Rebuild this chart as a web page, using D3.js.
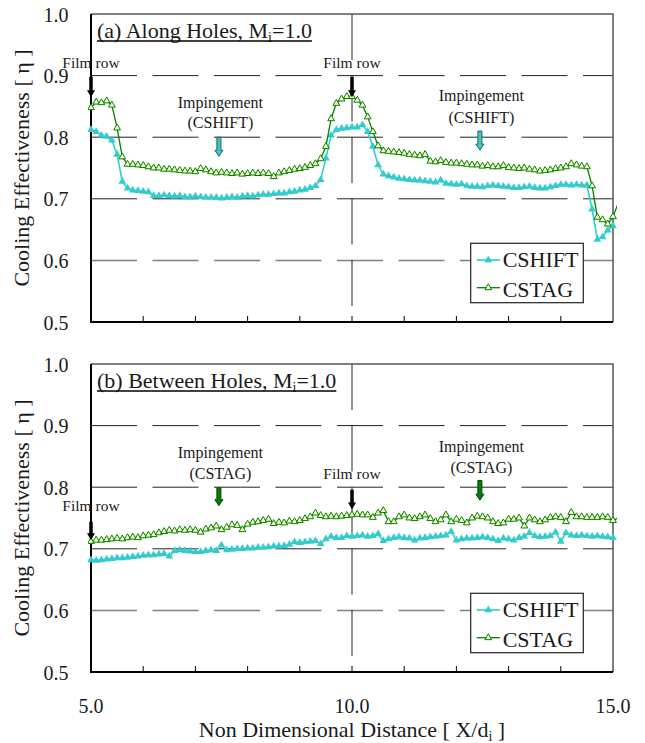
<!DOCTYPE html>
<html>
<head>
<meta charset="utf-8">
<script src="https://cdn.jsdelivr.net/npm/d3@7/dist/d3.min.js"></script>
<style>
  body { margin: 0; background: #fff; }
  svg text { font-family: "Liberation Serif", "Times New Roman", serif; fill: #1a1a1a; }
</style>
</head>
<body>
<div id="viz"></div>
<script>
// measuring stations X/di (one every 0.1)
const xPos = [
  5.0, 5.1, 5.2, 5.3, 5.4, 5.5, 5.6, 5.7, 5.8, 5.9,
  6.0, 6.1, 6.2, 6.3, 6.4, 6.5, 6.6, 6.7, 6.8, 6.9,
  7.0, 7.1, 7.2, 7.3, 7.4, 7.5, 7.6, 7.7, 7.8, 7.9,
  8.0, 8.1, 8.2, 8.3, 8.4, 8.5, 8.6, 8.7, 8.8, 8.9,
  9.0, 9.1, 9.2, 9.3, 9.4, 9.5, 9.6, 9.7, 9.8, 9.9,
  10.0, 10.1, 10.2, 10.3, 10.4, 10.5, 10.6, 10.7, 10.8, 10.9,
  11.0, 11.1, 11.2, 11.3, 11.4, 11.5, 11.6, 11.7, 11.8, 11.9,
  12.0, 12.1, 12.2, 12.3, 12.4, 12.5, 12.6, 12.7, 12.8, 12.9,
  13.0, 13.1, 13.2, 13.3, 13.4, 13.5, 13.6, 13.7, 13.8, 13.9,
  14.0, 14.1, 14.2, 14.3, 14.4, 14.5, 14.6, 14.7, 14.8, 14.9,
  15.0, 15.1
];

// (a) along holes
const shiftAlong = [
  0.812, 0.809, 0.803, 0.801, 0.795, 0.772, 0.728, 0.717, 0.714, 0.713,
  0.712, 0.711, 0.705, 0.705, 0.706, 0.705, 0.704, 0.705, 0.703, 0.703,
  0.704, 0.703, 0.702, 0.702, 0.702, 0.701, 0.702, 0.703, 0.702, 0.704,
  0.705, 0.704, 0.706, 0.707, 0.707, 0.708, 0.709, 0.709, 0.711, 0.712,
  0.714, 0.715, 0.718, 0.721, 0.731, 0.766, 0.803, 0.812, 0.814, 0.815,
  0.816, 0.816, 0.820, 0.809, 0.785, 0.755, 0.740, 0.737, 0.735, 0.733,
  0.732, 0.731, 0.730, 0.730, 0.729, 0.728, 0.727, 0.730, 0.725, 0.724,
  0.723, 0.724, 0.721, 0.720, 0.720, 0.719, 0.721, 0.722, 0.721, 0.720,
  0.719, 0.718, 0.718, 0.719, 0.720, 0.718, 0.717, 0.717, 0.719, 0.721,
  0.723, 0.723, 0.722, 0.723, 0.722, 0.722, 0.683, 0.634, 0.638, 0.649,
  0.656
];
const stagAlong = [
  0.848, 0.857, 0.856, 0.859, 0.852, 0.815, 0.768, 0.756, 0.756, 0.755,
  0.754, 0.752, 0.750, 0.750, 0.748, 0.748, 0.747, 0.746, 0.745, 0.745,
  0.744, 0.749, 0.747, 0.744, 0.742, 0.743, 0.742, 0.741, 0.742, 0.740,
  0.741, 0.742, 0.741, 0.742, 0.741, 0.736, 0.742, 0.744, 0.746, 0.748,
  0.749, 0.751, 0.754, 0.757, 0.765, 0.785, 0.830, 0.855, 0.862, 0.866,
  0.866, 0.860, 0.852, 0.833, 0.809, 0.786, 0.778, 0.777, 0.776, 0.775,
  0.774, 0.772, 0.771, 0.770, 0.772, 0.761, 0.760, 0.762, 0.759, 0.758,
  0.758, 0.757, 0.756, 0.755, 0.755, 0.753, 0.754, 0.752, 0.752, 0.754,
  0.751, 0.750, 0.749, 0.750, 0.748, 0.747, 0.745, 0.746, 0.747, 0.749,
  0.750, 0.752, 0.757, 0.755, 0.753, 0.752, 0.721, 0.670, 0.666, 0.659,
  0.671, 0.693
];

// (b) between holes
const shiftBetween = [
  0.682, 0.681, 0.682, 0.683, 0.684, 0.685, 0.685, 0.686, 0.687, 0.688,
  0.689, 0.690, 0.690, 0.691, 0.692, 0.688, 0.697, 0.698, 0.697, 0.696,
  0.695, 0.695, 0.697, 0.698, 0.697, 0.706, 0.698, 0.699, 0.700, 0.700,
  0.701, 0.701, 0.702, 0.702, 0.703, 0.704, 0.704, 0.705, 0.707, 0.711,
  0.710, 0.711, 0.712, 0.713, 0.708, 0.716, 0.720, 0.718, 0.718, 0.721,
  0.720, 0.721, 0.722, 0.720, 0.721, 0.724, 0.713, 0.716, 0.718, 0.719,
  0.718, 0.717, 0.714, 0.717, 0.718, 0.719, 0.720, 0.721, 0.722, 0.728,
  0.714, 0.716, 0.717, 0.717, 0.718, 0.719, 0.718, 0.716, 0.713, 0.717,
  0.716, 0.714, 0.718, 0.720, 0.726, 0.721, 0.719, 0.720, 0.721, 0.727,
  0.712, 0.726, 0.722, 0.721, 0.722, 0.721, 0.720, 0.721, 0.720, 0.719,
  0.718
];
const stagBetween = [
  0.712, 0.714, 0.714, 0.715, 0.716, 0.717, 0.716, 0.718, 0.719, 0.718,
  0.721, 0.722, 0.723, 0.726, 0.728, 0.730, 0.729, 0.731, 0.730, 0.731,
  0.730, 0.727, 0.732, 0.734, 0.737, 0.731, 0.735, 0.739, 0.738, 0.731,
  0.740, 0.743, 0.744, 0.746, 0.748, 0.741, 0.743, 0.742, 0.745, 0.744,
  0.746, 0.749, 0.752, 0.758, 0.754, 0.752, 0.753, 0.752, 0.753, 0.754,
  0.755, 0.756, 0.755, 0.755, 0.751, 0.758, 0.762, 0.744, 0.744, 0.752,
  0.755, 0.750, 0.749, 0.752, 0.755, 0.749, 0.744, 0.747, 0.755, 0.744,
  0.748, 0.746, 0.742, 0.750, 0.753, 0.752, 0.750, 0.744, 0.741, 0.742,
  0.748, 0.748, 0.750, 0.737, 0.750, 0.747, 0.744, 0.747, 0.751, 0.752,
  0.751, 0.744, 0.759, 0.752, 0.752, 0.751, 0.751, 0.751, 0.752, 0.751,
  0.746, 0.750
];

const yTicks = [0.5, 0.6, 0.7, 0.8, 0.9, 1.0];
const xTickLabels = [5.0, 10.0, 15.0];
const xMinorTicks = [6, 7, 8, 9, 10, 11, 12, 13, 14];
const gridLevels = [0.6, 0.7, 0.8, 0.9];
const seriesNames = ['CSHIFT', 'CSTAG'];

// annotations: where the arrow sits (X/di), text lines and heights in eta units
const notesAlong = [
  { x: 5.0, lines: ['Film row'], textAt: [0.912], from: 0.898, to: 0.865, kind: 'film' },
  { x: 10.0, lines: ['Film row'], textAt: [0.912], from: 0.898, to: 0.865, kind: 'film' },
  { x: 7.45, lines: ['Impingement', '(CSHIFT)'], textAt: [0.847, 0.815], from: 0.800, to: 0.769, kind: 'shift' },
  { x: 12.45, lines: ['Impingement', '(CSHIFT)'], textAt: [0.858, 0.823], from: 0.810, to: 0.779, kind: 'shift' }
];
const notesBetween = [
  { x: 5.0, lines: ['Film row'], textAt: [0.762], from: 0.744, to: 0.714, kind: 'film' },
  { x: 10.0, lines: ['Film row'], textAt: [0.813], from: 0.796, to: 0.764, kind: 'film' },
  { x: 7.45, lines: ['Impingement', '(CSTAG)'], textAt: [0.847, 0.814], from: 0.799, to: 0.770, kind: 'stag' },
  { x: 12.45, lines: ['Impingement', '(CSTAG)'], textAt: [0.857, 0.823], from: 0.811, to: 0.779, kind: 'stag' }
];

const W = 645, H = 743;
const plotLeft = 91, plotRight = 613, plotH = 308;
const cyan = '#33cccc', green = '#008000', markFill = '#ffffcc';
const dash = '46,15.5';

const svg = d3.select('#viz').append('svg')
  .attr('width', W).attr('height', H);

const x = d3.scaleLinear().domain([5, 15]).range([plotLeft, plotRight]);

const panels = [
  { top: 14, title: '(a) Along Holes, M', shift: shiftAlong, stag: stagAlong, notes: notesAlong, id: 'a' },
  { top: 364, title: '(b) Between Holes, M', shift: shiftBetween, stag: stagBetween, notes: notesBetween, id: 'b' }
];

const triangle = size => d3.symbol().type(d3.symbolTriangle).size(size)();

function arrowPath(cx, y0, y1, w, hw, hh) {
  const yh = y1 - hh;
  return `M${cx - w / 2},${y0}L${cx + w / 2},${y0}L${cx + w / 2},${yh}L${cx + hw / 2},${yh}` +
    `L${cx},${y1}L${cx - hw / 2},${yh}L${cx - w / 2},${yh}Z`;
}

panels.forEach(p => {
  const bottom = p.top + plotH;
  const y = d3.scaleLinear().domain([0.5, 1.0]).range([bottom, p.top]);
  const g = svg.append('g');

  // grid
  gridLevels.forEach(v => {
    g.append('line')
      .attr('x1', plotLeft).attr('x2', plotRight)
      .attr('y1', y(v)).attr('y2', y(v))
      .attr('stroke', v === 0.6 ? '#808080' : '#222')
      .attr('stroke-width', v === 0.6 ? 1.5 : 1)
      .attr('stroke-dasharray', dash);
  });
  g.append('line') // vertical at the film row
    .attr('x1', x(10)).attr('x2', x(10))
    .attr('y1', p.top).attr('y2', bottom)
    .attr('stroke', '#222').attr('stroke-width', 1)
    .attr('stroke-dasharray', dash);

  // frame
  g.append('path')
    .attr('d', `M${plotLeft},${p.top}H${plotRight}V${bottom}`)
    .attr('fill', 'none').attr('stroke', '#555').attr('stroke-width', 1.5);
  g.append('path')
    .attr('d', `M${plotLeft},${p.top}V${bottom}H${plotRight}`)
    .attr('fill', 'none').attr('stroke', '#000').attr('stroke-width', 2);

  g.selectAll('.minor').data(xMinorTicks).enter().append('line')
    .attr('x1', d => x(d)).attr('x2', d => x(d))
    .attr('y1', bottom).attr('y2', bottom - 6)
    .attr('stroke', '#000').attr('stroke-width', 1);

  // y tick labels
  g.selectAll('.ylab').data(yTicks).enter().append('text')
    .attr('x', 68.5).attr('y', d => y(d) + 7.5)
    .attr('text-anchor', 'end')
    .attr('font-size', '20px')
    .text(d => d3.format('.1f')(d));

  // y axis title
  g.append('text')
    .attr('transform', `translate(28.5,${(p.top + bottom) / 2})rotate(-90)`)
    .attr('text-anchor', 'middle')
    .attr('font-size', '22px')
    .text('Cooling Effectiveness [ η ]');

  // title with underline
  const title = g.append('text')
    .attr('x', 97).attr('y', p.top + 23.8)
    .attr('font-size', '22px');
  title.append('tspan').text(p.title);
  title.append('tspan').attr('font-size', '14px').attr('dy', 4).text('i');
  title.append('tspan').attr('dy', -4).text('=1.0');
  const tw = title.node().getComputedTextLength();
  g.append('line')
    .attr('x1', 97).attr('x2', 97 + tw)
    .attr('y1', p.top + 27).attr('y2', p.top + 27)
    .attr('stroke', '#000').attr('stroke-width', 1.3);

  // series
  const clipId = 'clip-' + p.id;
  svg.append('clipPath').attr('id', clipId).append('rect')
    .attr('x', plotLeft - 3).attr('y', p.top)
    .attr('width', plotRight - plotLeft + 7).attr('height', plotH);

  const line = d3.line().x((d, i) => x(xPos[i])).y(d => y(d));
  const series = g.append('g').attr('clip-path', `url(#${clipId})`);

  series.append('path').datum(p.shift)
    .attr('d', line).attr('fill', 'none')
    .attr('stroke', cyan).attr('stroke-width', 1.6);
  series.selectAll('.ms').data(p.shift).enter().append('path')
    .attr('d', triangle(26))
    .attr('transform', (d, i) => `translate(${x(xPos[i])},${y(d)})`)
    .attr('fill', cyan);

  series.append('path').datum(p.stag)
    .attr('d', line).attr('fill', 'none')
    .attr('stroke', green).attr('stroke-width', 1.3);
  series.selectAll('.mg').data(p.stag.filter((d, i) => xPos[i] <= 15)).enter().append('path')
    .attr('d', triangle(20))
    .attr('transform', (d, i) => `translate(${x(xPos[i])},${y(d)})`)
    .attr('fill', markFill).attr('stroke', green).attr('stroke-width', 1);

  // annotations
  p.notes.forEach(n => {
    const cx = x(n.x);
    n.lines.forEach((t, k) => {
      g.append('text')
        .attr('x', n.kind === 'film' ? cx : cx + 1.5)
        .attr('y', y(n.textAt[k]))
        .attr('text-anchor', 'middle')
        .attr('font-size', n.kind === 'film' ? '15.5px' : '16px')
        .text(t);
    });
    const a = g.append('path');
    if (n.kind === 'film') {
      a.attr('d', arrowPath(cx, y(n.from), y(n.to), 3.5, 8, 7)).attr('fill', '#000');
    } else {
      a.attr('d', arrowPath(cx, y(n.from), y(n.to), 4, 8, 6))
        .attr('fill', n.kind === 'shift' ? cyan : green)
        .attr('stroke', n.kind === 'shift' ? '#2f5f5f' : '#0a3d0a')
        .attr('stroke-width', 1);
    }
  });

  // legend
  const lx = plotRight - 142.3, ly = p.top + 229.3;
  const lg = g.append('g');
  lg.append('rect')
    .attr('x', lx).attr('y', ly).attr('width', 112.6).attr('height', 59.4)
    .attr('fill', '#fff').attr('stroke', '#222').attr('stroke-width', 1.2);
  seriesNames.forEach((name, k) => {
    const my = ly + (k === 0 ? 16.7 : 44.4);
    const col = k === 0 ? cyan : green;
    lg.append('line')
      .attr('x1', lx + 6).attr('x2', lx + 29.3)
      .attr('y1', my).attr('y2', my)
      .attr('stroke', col).attr('stroke-width', k === 0 ? 1.6 : 1.3);
    lg.append('path')
      .attr('d', triangle(k === 0 ? 26 : 20))
      .attr('transform', `translate(${lx + 17.6},${my})`)
      .attr('fill', k === 0 ? cyan : markFill)
      .attr('stroke', k === 0 ? 'none' : green);
    lg.append('text')
      .attr('x', lx + 32).attr('y', my + (k === 0 ? 6.7 : 8.8))
      .attr('font-size', '22px')
      .text(name);
  });
});

// x axis labels (bottom panel only)
svg.selectAll('.xlab').data(xTickLabels).enter().append('text')
  .attr('x', d => x(d)).attr('y', 713)
  .attr('text-anchor', 'middle')
  .attr('font-size', '20px')
  .text(d => d3.format('.1f')(d));

const xt = svg.append('text')
  .attr('x', 352).attr('y', 737)
  .attr('text-anchor', 'middle')
  .attr('font-size', '22px');
xt.append('tspan').text('Non Dimensional Distance [ X/d');
xt.append('tspan').attr('font-size', '14px').attr('dy', 4).text('i');
xt.append('tspan').attr('dy', -4).text(' ]');
</script>
</body>
</html>
